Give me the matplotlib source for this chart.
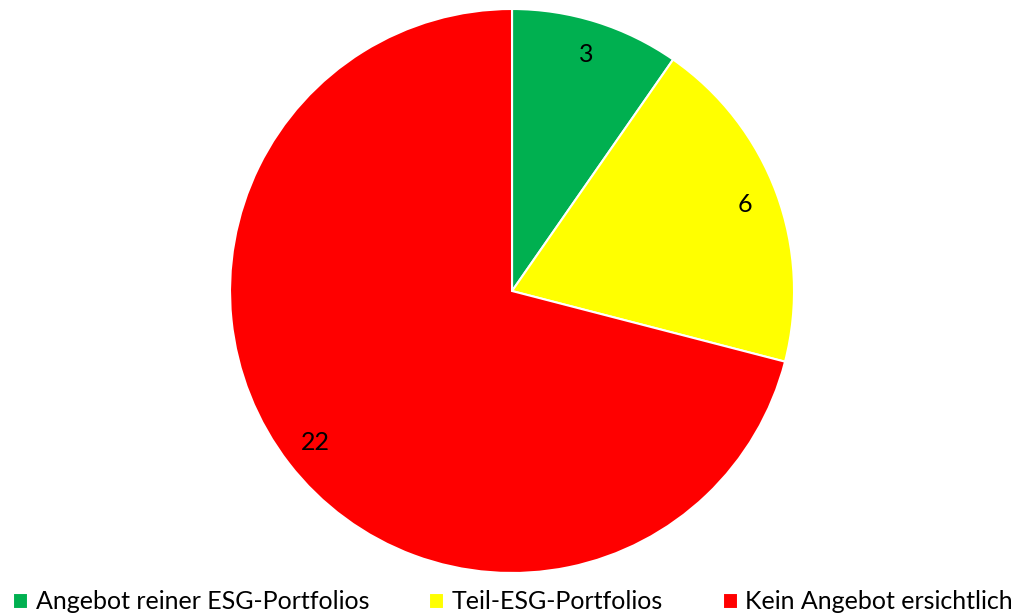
import matplotlib
matplotlib.use("Agg")
import matplotlib.pyplot as plt

categories = ["Angebot reiner ESG-Portfolios", "Teil-ESG-Portfolios", "Kein Angebot ersichtlich"]
values = [3, 6, 22]
colors = ["#00B050", "#FFFF00", "#FF0000"]

plt.rcParams['font.family'] = ['Lato', 'DejaVu Sans']

fig = plt.figure(figsize=(10.26, 6.16), dpi=100)
ax = fig.add_axes([0.2242, 0.0698, 0.5497, 0.9156])
wedges, texts = ax.pie(values, colors=colors, startangle=90, counterclock=False,
                       labels=[str(v) for v in values], labeldistance=0.88,
                       wedgeprops=dict(edgecolor="white", linewidth=1.5),
                       textprops=dict(fontsize=18, color="black", ha="center", va="center"))
for t in texts:
    t.set_ha("center")
    t.set_va("center")
ax.set_aspect("equal")
ax.set_xlim(-1, 1)
ax.set_ylim(-1, 1)
ax.axis("off")

leg = fig.legend(wedges, categories, loc="lower center", bbox_to_anchor=(0.5, -0.012),
                 ncol=3, frameon=False, fontsize=18, handlelength=0.6, handleheight=0.6,
                 handletextpad=0.3, columnspacing=2.4, borderaxespad=0)

fig.savefig("out.png", dpi=100)
